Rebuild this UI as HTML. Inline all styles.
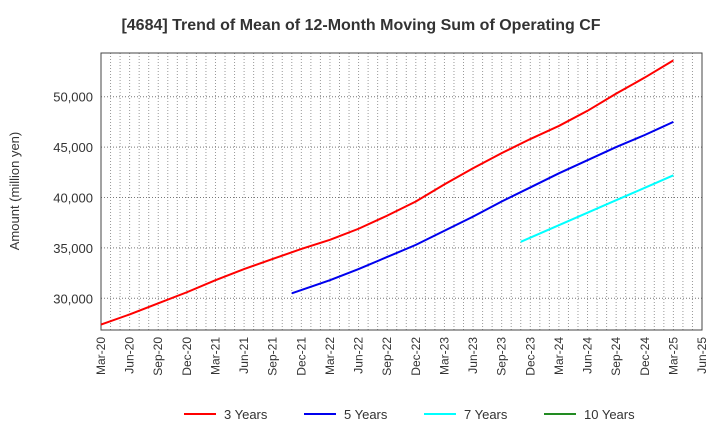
<!DOCTYPE html>
<html><head><meta charset="utf-8"><style>
body{margin:0;background:#fff;font-family:"Liberation Sans",sans-serif}
</style></head><body>
<svg width="720" height="440" xmlns="http://www.w3.org/2000/svg" font-family="Liberation Sans, sans-serif">
<text x="361" y="30" text-anchor="middle" font-size="16" font-weight="bold" fill="#333">[4684]  Trend of Mean of 12-Month Moving Sum of Operating CF</text>
<text transform="translate(19,191) rotate(-90)" text-anchor="middle" font-size="13" fill="#333">Amount (million yen)</text>
<g id="grid"></g><g id="axes"></g><g id="series"></g><g id="legend"></g>
</svg>
<script>
const xLabels=["Mar-20","Jun-20","Sep-20","Dec-20","Mar-21","Jun-21","Sep-21","Dec-21","Mar-22","Jun-22","Sep-22","Dec-22","Mar-23","Jun-23","Sep-23","Dec-23","Mar-24","Jun-24","Sep-24","Dec-24","Mar-25","Jun-25"];
const yTicks=[30000,35000,40000,45000,50000];
const red=[[0,27400],[3,28400],[6,29500],[9,30600],[12,31800],[15,32900],[18,33900],[21,34900],[24,35800],[27,36900],[30,38200],[33,39600],[36,41300],[39,42900],[42,44400],[45,45800],[48,47100],[51,48600],[54,50300],[57,51900],[60,53600]];
const blue=[[20,30500],[24,31800],[27,32900],[30,34100],[33,35300],[36,36700],[39,38100],[42,39600],[45,41000],[48,42400],[51,43700],[54,45000],[57,46200],[60,47500]];
const cyan=[[44,35600],[48,37250],[51,38490],[54,39730],[57,40960],[60,42200]];
const green=[];
const NS="http://www.w3.org/2000/svg";
const L=101,R=702,T=53,B=330;
const X=m=>L+m*(R-L)/63;
const Y=v=>298.3-(v-30000)*0.01008;
function mk(tag,attrs,parent){const e=document.createElementNS(NS,tag);for(const k in attrs)e.setAttribute(k,attrs[k]);document.getElementById(parent).appendChild(e);return e;}
for(let m=1;m<63;m++){const l=mk('line',{x1:X(m),x2:X(m),y1:T,y2:B,stroke:'#999','stroke-dasharray':'1,2','stroke-width':1},'grid');

}
yTicks.forEach(v=>{const l=mk('line',{x1:L,x2:R,y1:Y(v),y2:Y(v),stroke:'#777','stroke-dasharray':'1,2'},'grid');


const t=mk('text',{x:L-8,y:Y(v)+5,'text-anchor':'end','font-size':13,fill:'#333'},'axes');t.textContent=v.toLocaleString('en-US');

});
const fr=mk('rect',{x:L,y:T,width:R-L,height:B-T,fill:'none',stroke:'#444','stroke-width':1},'axes');


xLabels.forEach((s,i)=>{const x=X(i*3);const t=mk('text',{transform:`translate(${x+4},${B+7}) rotate(-90)`,'text-anchor':'end','font-size':12,fill:'#333'},'axes');t.textContent=s;

});
function line(d,c,n){if(!d.length)return;const p=mk('polyline',{points:d.map(q=>X(q[0])+','+Y(q[1])).join(' '),fill:'none',stroke:c,'stroke-width':2},'series');

}
line(red,'#ff0000','line-3-years');line(blue,'#0000ee','line-5-years');line(cyan,'#00ffff','line-7-years');line(green,'#228b22','line-10-years');
const leg=[['3 Years','#ff0000',184],['5 Years','#0000ee',304],['7 Years','#00ffff',424],['10 Years','#228b22',544]];
leg.forEach(([s,c,x])=>{const g=mk('g',{},'legend');


const l=document.createElementNS(NS,'line');l.setAttribute('x1',x);l.setAttribute('x2',x+32);l.setAttribute('y1',414);l.setAttribute('y2',414);l.setAttribute('stroke',c);l.setAttribute('stroke-width',2);g.appendChild(l);
const t=document.createElementNS(NS,'text');t.setAttribute('x',x+40);t.setAttribute('y',419);t.setAttribute('font-size',13);t.setAttribute('fill','#333');t.textContent=s;g.appendChild(t);});
</script>
</body></html>
